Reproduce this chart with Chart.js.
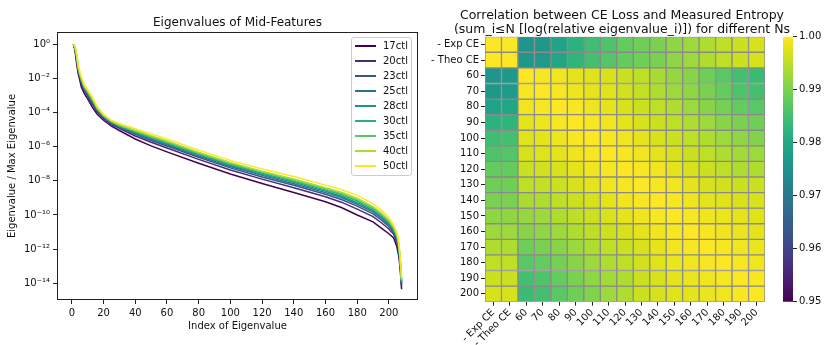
<!DOCTYPE html>
<html>
<head>
<meta charset="utf-8">
<script src="https://cdn.jsdelivr.net/npm/chart.js@4.4.0/dist/chart.umd.min.js"></script>
<style>
  body { margin: 0; background: #fff; font-family: "DejaVu Sans", sans-serif; }
  #wrap { position: relative; width: 828px; height: 345px; overflow: hidden; }
  canvas { position: absolute; top: 0; }
  .title { position: absolute; text-align: center; color: #111; white-space: nowrap; }
  #legend { position: absolute; left: 351px; top: 37px; width: 59px; border: 1px solid #ccc;
            border-radius: 3px; background: rgba(255,255,255,0.85); padding: 0 0 2px; font-size: 10px; color: #111; }
  .item { height: 15px; display: flex; align-items: center; }
  .swatch { width: 21px; height: 2px; margin: 0 7px 0 3px; }
</style>
</head>
<body>
<div id="wrap">
  <canvas id="eig" width="422" height="345" style="left:0"></canvas>
  <canvas id="heat" width="350" height="345" style="left:420px"></canvas>
  <canvas id="cbar" width="53" height="345" style="left:775px"></canvas>
  <div class="title" style="left:57px;width:361px;top:15px;font-size:12px;line-height:14px">Eigenvalues of Mid-Features</div>
  <div class="title" style="left:422px;width:400px;top:8px;font-size:12.5px;line-height:13.5px">Correlation between CE Loss and Measured Entropy<br>(sum_i≤N [log(relative eigenvalue_i)]) for different Ns</div>
  <div id="legend"></div>
</div>
<script>
// ---- left panel: eigenvalue spectra (log10 of eigenvalue / max eigenvalue) ----
const eigIndex = [1, 2, 3, 4, 5, 6, 8, 10, 13, 16, 20, 25, 30, 40, 50, 60, 80, 100, 120, 140, 160, 170, 180, 190, 195, 200, 203, 205, 206, 207, 208];

const log17ctl = [0, -0.35, -1.1, -1.7, -2.1, -2.5, -2.9, -3.2, -3.7, -4.1, -4.45, -4.8, -5.05, -5.55, -5.95, -6.3, -6.97, -7.6, -8.15, -8.68, -9.22, -9.56, -10.0, -10.4, -10.75, -11.1, -11.35, -11.85, -12.3, -13.0, -14.35];
const log20ctl = [0, -0.28, -0.92, -1.55, -1.95, -2.32, -2.75, -3.04, -3.52, -3.97, -4.35, -4.7, -4.93, -5.37, -5.74, -6.08, -6.74, -7.36, -7.9, -8.4, -8.93, -9.25, -9.66, -10.09, -10.44, -10.82, -11.13, -11.6, -12.03, -12.79, -14.16];
const log23ctl = [0, -0.24, -0.83, -1.48, -1.88, -2.23, -2.68, -2.95, -3.43, -3.9, -4.29, -4.64, -4.87, -5.28, -5.64, -5.96, -6.62, -7.24, -7.77, -8.26, -8.78, -9.09, -9.48, -9.93, -10.28, -10.67, -11.01, -11.47, -11.9, -12.69, -14.06];
const log25ctl = [0, -0.21, -0.77, -1.43, -1.83, -2.17, -2.63, -2.9, -3.37, -3.85, -4.26, -4.61, -4.83, -5.22, -5.57, -5.89, -6.55, -7.16, -7.68, -8.17, -8.69, -8.98, -9.37, -9.82, -10.17, -10.58, -10.94, -11.38, -11.81, -12.62, -14.0];
const log28ctl = [0, -0.19, -0.72, -1.39, -1.79, -2.12, -2.59, -2.85, -3.32, -3.82, -4.23, -4.58, -4.8, -5.17, -5.51, -5.83, -6.48, -7.1, -7.61, -8.09, -8.61, -8.9, -9.28, -9.74, -10.09, -10.5, -10.88, -11.31, -11.73, -12.56, -13.94];
const log30ctl = [0, -0.17, -0.67, -1.35, -1.75, -2.07, -2.55, -2.81, -3.27, -3.78, -4.2, -4.55, -4.77, -5.12, -5.45, -5.77, -6.42, -7.03, -7.55, -8.02, -8.53, -8.81, -9.18, -9.65, -10.0, -10.43, -10.82, -11.25, -11.66, -12.5, -13.89];
const log35ctl = [0, -0.16, -0.63, -1.31, -1.71, -2.03, -2.51, -2.77, -3.23, -3.75, -4.18, -4.53, -4.74, -5.08, -5.4, -5.72, -6.37, -6.98, -7.49, -7.95, -8.46, -8.74, -9.1, -9.58, -9.93, -10.36, -10.77, -11.19, -11.6, -12.45, -13.84];
const log40ctl = [0, -0.14, -0.59, -1.28, -1.68, -1.99, -2.48, -2.73, -3.19, -3.72, -4.15, -4.5, -4.71, -5.04, -5.36, -5.66, -6.32, -6.92, -7.43, -7.89, -8.4, -8.67, -9.02, -9.51, -9.86, -10.29, -10.71, -11.13, -11.54, -12.41, -13.8];
const log50ctl = [0, -0.1, -0.5, -1.2, -1.6, -1.9, -2.4, -2.65, -3.1, -3.65, -4.1, -4.45, -4.65, -4.95, -5.25, -5.55, -6.2, -6.8, -7.3, -7.75, -8.25, -8.51, -8.85, -9.35, -9.7, -10.15, -10.6, -11.0, -11.4, -12.3, -13.7];

const seriesLabels = ['17ctl', '20ctl', '23ctl', '25ctl', '28ctl', '30ctl', '35ctl', '40ctl', '50ctl'];
const seriesLogs = [log17ctl, log20ctl, log23ctl, log25ctl, log28ctl, log30ctl, log35ctl, log40ctl, log50ctl];
const seriesColors = ['#440154', '#472c7a', '#3b528b', '#2c728e', '#21918c', '#28ae80', '#5ec962', '#addc30', '#fde725'];

const xTicks = [0, 20, 40, 60, 80, 100, 120, 140, 160, 180, 200];
const yTickExps = [0, -2, -4, -6, -8, -10, -12, -14];

// ---- right panel: correlation matrix ----
const nLabels = ['- Exp CE', '- Theo CE', '60', '70', '80', '90', '100', '110', '120', '130', '140', '150', '160', '170', '180', '190', '200'];
const corrExpCE  = [1, .9998, .976, .9765, .979, .982, .9845, .986, .988, .989, .990, .9915, .9925, .994, .995, .996, .997];
const corrTheoCE = [.9998, 1, .9765, .977, .9795, .9825, .985, .9865, .988, .989, .990, .9915, .9925, .994, .995, .996, .997];
const corrN60  = [.976, .9765, 1, .9995, .999, .998, .9975, .997, .996, .995, .9935, .992, .991, .989, .987, .985, .984];
const corrN70  = [.9765, .977, .9995, 1, .9995, .9988, .998, .9975, .9965, .9955, .994, .9925, .9915, .990, .988, .986, .985];
const corrN80  = [.979, .9795, .999, .9995, 1, .9995, .9988, .998, .997, .996, .995, .994, .9925, .991, .9895, .988, .987];
const corrN90  = [.982, .9825, .998, .9988, .9995, 1, .9995, .999, .998, .997, .996, .995, .994, .9925, .991, .990, .989];
const corrN100 = [.9845, .985, .9975, .998, .9988, .9995, 1, .9995, .999, .998, .997, .996, .995, .994, .9925, .9915, .9905];
const corrN110 = [.986, .9865, .997, .9975, .998, .999, .9995, 1, .9995, .999, .998, .997, .996, .995, .994, .993, .9925];
const corrN120 = [.988, .988, .996, .9965, .997, .998, .999, .9995, 1, .9995, .999, .998, .997, .996, .995, .994, .994];
const corrN130 = [.989, .989, .995, .9955, .996, .997, .998, .999, .9995, 1, .9995, .999, .998, .997, .9965, .996, .996];
const corrN140 = [.990, .990, .9935, .994, .995, .996, .997, .998, .999, .9995, 1, .9995, .999, .998, .9975, .997, .9968];
const corrN150 = [.9915, .9915, .992, .9925, .994, .995, .996, .997, .998, .999, .9995, 1, .9995, .999, .9985, .998, .9975];
const corrN160 = [.9925, .9925, .991, .9915, .9925, .994, .995, .996, .997, .998, .999, .9995, 1, .9995, .999, .9985, .998];
const corrN170 = [.994, .994, .989, .990, .991, .9925, .994, .995, .996, .997, .998, .999, .9995, 1, .9995, .999, .9985];
const corrN180 = [.995, .995, .987, .988, .9895, .991, .9925, .994, .995, .9965, .9975, .9985, .999, .9995, 1, .9995, .999];
const corrN190 = [.996, .996, .985, .986, .988, .990, .9915, .993, .994, .996, .997, .998, .9985, .999, .9995, 1, .9997];
const corrN200 = [.997, .997, .984, .985, .987, .989, .9905, .9925, .994, .996, .9968, .9975, .998, .9985, .999, .9997, 1];
const corrRows = [corrExpCE, corrTheoCE, corrN60, corrN70, corrN80, corrN90, corrN100, corrN110, corrN120,
                  corrN130, corrN140, corrN150, corrN160, corrN170, corrN180, corrN190, corrN200];

const cbTicks = [0.95, 0.96, 0.97, 0.98, 0.99, 1.00];

// viridis colormap stops (t = 0 .. 1)
const VIRIDIS = ['#440154', '#471365', '#482475', '#463480', '#414487', '#3b528b', '#355f8d', '#2f6c8e', '#2a788e', '#25848e',
                 '#21918c', '#1e9c89', '#22a884', '#2fb47c', '#44bf70', '#5ec962', '#7ad151', '#9bd93c', '#bddf26', '#dfe318', '#fde725'];

Chart.defaults.font.family = "'DejaVu Sans', sans-serif";
Chart.defaults.font.size = 10;
Chart.defaults.color = '#111';

function hexRgb(h) {
  return [1, 3, 5].map(i => parseInt(h.slice(i, i + 2), 16));
}

function viridis(v) {
  const lo = cbTicks[0], hi = cbTicks[cbTicks.length - 1];
  const t = Math.min(1, Math.max(0, (v - lo) / (hi - lo))) * (VIRIDIS.length - 1);
  const i = Math.min(Math.floor(t), VIRIDIS.length - 2);
  const f = t - i;
  const a = hexRgb(VIRIDIS[i]), b = hexRgb(VIRIDIS[i + 1]);
  return `rgb(${a.map((c, k) => Math.round(c + (b[k] - c) * f)).join(',')})`;
}

const SUP = { '-': '⁻', '0': '⁰', '1': '¹', '2': '²', '3': '³', '4': '⁴', '5': '⁵', '6': '⁶', '7': '⁷', '8': '⁸', '9': '⁹' };
function powLabel(value) {
  const e = Math.round(Math.log10(value));
  return '10' + String(e).split('').map(ch => SUP[ch]).join('');
}

// box around the axes, like matplotlib spines
const frame = {
  id: 'frame',
  afterDraw(chart) {
    const { ctx, chartArea: a } = chart;
    ctx.save();
    ctx.strokeStyle = '#222';
    ctx.lineWidth = 1;
    ctx.strokeRect(Math.round(a.left) + 0.5, Math.round(a.top) + 0.5,
                   Math.round(a.right - a.left) - 1, Math.round(a.bottom - a.top) - 1);
    ctx.restore();
  }
};

const tickGrid = { drawOnChartArea: false, tickLength: 4, color: '#222' };

// Left: eigenvalue curves
const eigChart = new Chart(document.getElementById('eig'), {
  type: 'line',
  data: {
    datasets: seriesLogs.map((logs, s) => ({
      label: seriesLabels[s],
      data: eigIndex.map((x, i) => ({ x, y: 10 ** logs[i] })),
      borderColor: seriesColors[s],
      backgroundColor: seriesColors[s],
      order: seriesLogs.length - s
    }))
  },
  options: {
    responsive: false,
    animation: false,
    layout: { padding: { top: 32, right: 4 } },
    plugins: { legend: { display: false }, tooltip: { enabled: false } },
    elements: { point: { radius: 0 }, line: { borderWidth: 1.5, tension: 0 } },
    scales: {
      x: {
        type: 'linear', min: -9.35, max: 218.35,
        afterBuildTicks: ax => { ax.ticks = xTicks.map(value => ({ value })); },
        afterFit: ax => { ax.height = 45; },
        ticks: { padding: 3, maxRotation: 0 },
        grid: tickGrid, border: { display: false },
        title: { display: true, text: 'Index of Eigenvalue', padding: { top: 0, bottom: 13 } }
      },
      y: {
        type: 'logarithmic', min: 10 ** -14.98, max: 10 ** 0.72,
        afterBuildTicks: ax => { ax.ticks = yTickExps.map(e => ({ value: 10 ** e })); },
        afterFit: ax => { ax.width = 57; },
        ticks: { callback: powLabel, padding: 3 },
        grid: tickGrid, border: { display: false },
        title: { display: true, text: 'Eigenvalue / Max Eigenvalue', padding: { top: 6, bottom: 0 } }
      }
    }
  },
  plugins: [frame]
});

// HTML legend from the datasets
document.getElementById('legend').innerHTML = eigChart.data.datasets.map(d =>
  `<div class="item"><span class="swatch" style="background:${d.borderColor}"></span>${d.label}</div>`
).join('');

// Right: heatmap as floating bars, one dataset per row
new Chart(document.getElementById('heat'), {
  type: 'bar',
  data: {
    labels: nLabels,
    datasets: corrRows.map((row, r) => ({
      data: row.map(() => [r, r + 1]),
      backgroundColor: row.map(viridis),
      borderColor: '#8a8a8a',
      borderWidth: 1,
      borderSkipped: false,
      barPercentage: 1,
      categoryPercentage: 1,
      grouped: false
    }))
  },
  options: {
    responsive: false,
    animation: false,
    layout: { padding: { top: 36.7, right: 5 } },
    plugins: { legend: { display: false }, tooltip: { enabled: false } },
    scales: {
      x: {
        afterFit: ax => { ax.height = 43.3; },
        ticks: { autoSkip: false, minRotation: 45, maxRotation: 45, padding: 1 },
        grid: { ...tickGrid, offset: false }, border: { display: false }
      },
      y: {
        min: 0, max: nLabels.length, reverse: true,
        afterBuildTicks: ax => { ax.ticks = nLabels.map((_, i) => ({ value: i + 0.5 })); },
        afterFit: ax => { ax.width = 65; },
        ticks: { callback: v => nLabels[Math.floor(v)], padding: 2 },
        grid: tickGrid, border: { display: false }
      }
    }
  }
});

// Colorbar
new Chart(document.getElementById('cbar'), {
  type: 'bar',
  data: {
    labels: [''],
    datasets: [{
      data: [[cbTicks[0], cbTicks[cbTicks.length - 1]]],
      backgroundColor: ctx => {
        const area = ctx.chart.chartArea;
        if (!area) return null;
        const g = ctx.chart.ctx.createLinearGradient(0, area.bottom, 0, area.top);
        VIRIDIS.forEach((c, i) => g.addColorStop(i / (VIRIDIS.length - 1), c));
        return g;
      },
      borderWidth: 0,
      barPercentage: 1,
      categoryPercentage: 1
    }]
  },
  options: {
    responsive: false,
    animation: false,
    layout: { padding: { left: 8, top: 36.7, bottom: 43.3 } },
    plugins: { legend: { display: false }, tooltip: { enabled: false } },
    scales: {
      x: { display: false },
      y: {
        position: 'right', min: cbTicks[0], max: cbTicks[cbTicks.length - 1],
        afterBuildTicks: ax => { ax.ticks = cbTicks.map(value => ({ value })); },
        afterFit: ax => { ax.width = 35; },
        ticks: { callback: v => v.toFixed(2), padding: 2 },
        grid: tickGrid, border: { display: false }
      }
    }
  }
});
</script>
</body>
</html>
